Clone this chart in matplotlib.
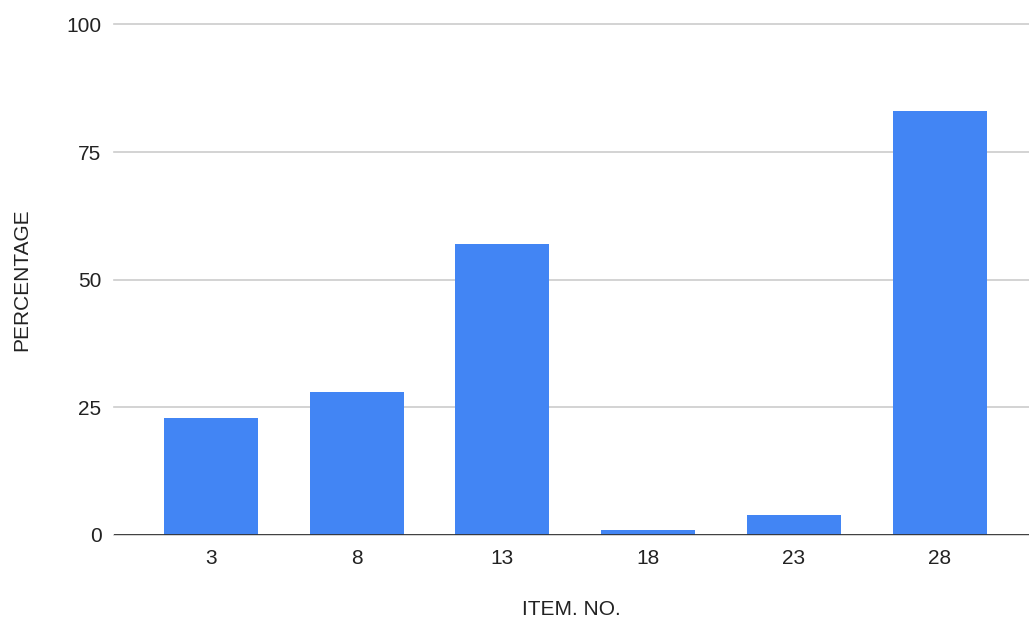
import matplotlib.pyplot as plt

items = ["3", "8", "13", "18", "23", "28"]
percentage = [23, 28, 57, 1, 4, 83]
y_ticks = [0, 25, 50, 75, 100]

plt.rcParams["font.family"] = ["Liberation Sans", "DejaVu Sans"]

fig = plt.figure(figsize=(10.29, 6.23), dpi=100)
ax = fig.add_axes([114 / 1029, 88 / 623, 915 / 1029, 510.5 / 623])

x = range(len(items))
ax.bar(x, percentage, width=0.645, color="#4285F4", zorder=3)

ax.set_xlim(-0.666, len(items) - 1 + 0.614)
ax.set_ylim(0, 100)
ax.set_xticks(list(x))
ax.set_xticklabels(items)
ax.set_yticks(y_ticks)

ax.grid(axis="y", color="#cccccc", linewidth=1.2)
for line in ax.get_ygridlines():
    line.set_clip_on(False)
ax.axhline(0, color="#333333", linewidth=1.3, zorder=4)

for side in ["top", "right", "left", "bottom"]:
    ax.spines[side].set_visible(False)
ax.tick_params(axis="both", length=0, labelsize=15, colors="#222222")
ax.tick_params(axis="x", pad=10)
ax.tick_params(axis="y", pad=9)

ax.set_xlabel("ITEM. NO.", fontsize=15, color="#222222", labelpad=23)
ax.set_ylabel("PERCENTAGE", fontsize=15, color="#222222", labelpad=25)

plt.savefig("out.png", dpi=100)
